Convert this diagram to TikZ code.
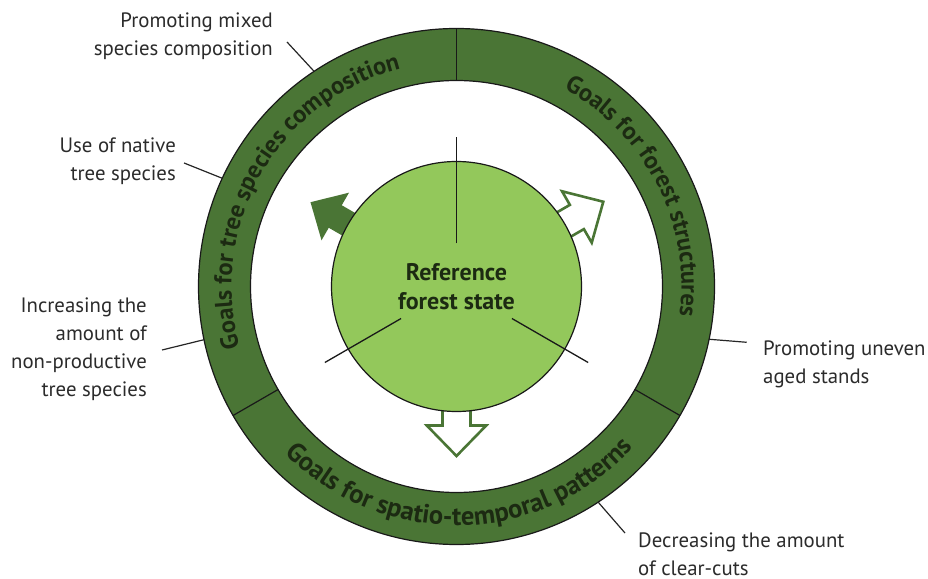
\documentclass[tikz,border=0pt]{standalone}
\usepackage{fontspec}
\setmainfont{PT Sans}
\usetikzlibrary{decorations.text,calc}
\definecolor{ringgreen}{HTML}{4A7535}
\definecolor{lightgreen}{HTML}{93C85B}
\definecolor{labelgray}{HTML}{2B2B2B}
\definecolor{titledark}{HTML}{1C2A12}
\newcommand\ringfont{\fontsize{24.5}{28}\selectfont\bfseries\color{titledark}}
\newcommand\ringfontb{\fontsize{26.5}{30}\selectfont\bfseries\color{titledark}}
\begin{document}
\begin{tikzpicture}[x=1pt,y=1pt,
  lbl/.style={font=\fontsize{20.8}{28}\selectfont, text=labelgray, inner sep=0pt},
  conn/.style={draw=black!85, line width=1.2pt},
  spoke/.style={draw=black!90, line width=1.3pt},
  outline/.style={draw=black!90, line width=1.2pt},
  solidarrow/.style={fill=ringgreen},
  hollowarrow/.style={draw=ringgreen, line width=2.6pt, fill=white, line join=miter},
  ringtext/.style={decorate, decoration={text along path, text align=center, text={#1}}}
]
\useasboundingbox (0,0) rectangle (928,578);
\coordinate (C) at (456.5,291.5);

% ring
\fill[ringgreen, even odd rule] (C) circle[radius=258] (C) circle[radius=206];
\draw[outline] (C) circle[radius=258] (C) circle[radius=206];
\foreach \a in {90,210,330}{
  \coordinate (di\a) at ($(C)+(\a:206)$);
  \coordinate (do\a) at ($(C)+(\a:258)$);
  \draw[outline] (di\a) -- (do\a);
}

% ring texts
\path[ringtext={|\ringfont|Goals for tree species composition}]
  ($(C)+(210:225)$) arc[start angle=210, end angle=90, radius=225];
\path[ringtext={|\ringfont|Goals for forest structures}]
  ($(C)+(87:225)$) arc[start angle=87, end angle=-33, radius=225];
\path[ringtext={|\ringfontb|Goals for spatio-temporal patterns}]
  ($(C)+(211:239)$) arc[start angle=211, end angle=331, radius=239];

% arrows (behind the centre circle)
\begin{scope}[shift={(C)}, rotate=150]
  \fill[solidarrow] (100,-13) -- (140,-13) -- (140,-27.5) -- (168.6,0) -- (140,27.5) -- (140,13) -- (100,13) -- cycle;
\end{scope}
\begin{scope}[shift={(C)}, rotate=30]
  \draw[hollowarrow] (100,-14) -- (139,-14) -- (139,-29.7) -- (169.5,0) -- (139,29.7) -- (139,14) -- (100,14) -- cycle;
\end{scope}
\begin{scope}[shift={(C)}, rotate=270]
  \draw[hollowarrow] (100,-14) -- (139,-14) -- (139,-29.7) -- (169.5,0) -- (139,29.7) -- (139,14) -- (100,14) -- cycle;
\end{scope}

% centre circle
\node[circle, outline, fill=lightgreen, minimum size=250, inner sep=0pt,
      font=\fontsize{24}{28.4}\selectfont\bfseries, text=titledark, align=center] (ref) at (C) {Reference\\forest state};

% spokes
\coordinate (s90a) at ($(C)+(90:43)$);   \coordinate (s90b) at ($(C)+(90:149)$);
\coordinate (s210a) at ($(C)+(210:64)$); \coordinate (s210b) at ($(C)+(210:152)$);
\coordinate (s330a) at ($(C)+(330:64)$); \coordinate (s330b) at ($(C)+(330:152)$);
\draw[spoke] (s90a) -- (s90b);
\draw[spoke] (s210a) -- (s210b);
\draw[spoke] (s330a) -- (s330b);

% labels (base anchor = baseline of the last line)
\node[lbl, anchor=base east, align=right] (l1) at (273,522) {Promoting mixed\\species composition};
\node[lbl, anchor=base east, align=right] (l2) at (176,397) {Use of native\\tree species};
\node[lbl, anchor=base east, align=right] (l3) at (147,181) {Increasing the\\amount of\\non-productive\\tree species};
\node[lbl, anchor=base west, align=left] (l4) at (763,194) {Promoting uneven\\aged stands};
\node[lbl, anchor=base west, align=left] (l5) at (638,3) {Decreasing the amount\\of clear-cuts};

% connectors
\coordinate (c1) at (287,536);   \coordinate (r1) at ($(C)+(123.5:258)$);
\coordinate (c2) at (184,415);   \coordinate (r2) at ($(C)+(155.2:258)$);
\coordinate (c3) at (162,228);   \coordinate (r3) at ($(C)+(191.9:258)$);
\coordinate (c4) at (746.7,235.7); \coordinate (r4) at ($(C)+(348.2:258)$);
\coordinate (c5) at (625,45);    \coordinate (r5) at ($(C)+(303.3:258)$);
\draw[conn] (c1) -- (r1);
\draw[conn] (c2) -- (r2);
\draw[conn] (c3) -- (r3);
\draw[conn] (r4) -- (c4);
\draw[conn] (r5) -- (c5);
\end{tikzpicture}
\end{document}
